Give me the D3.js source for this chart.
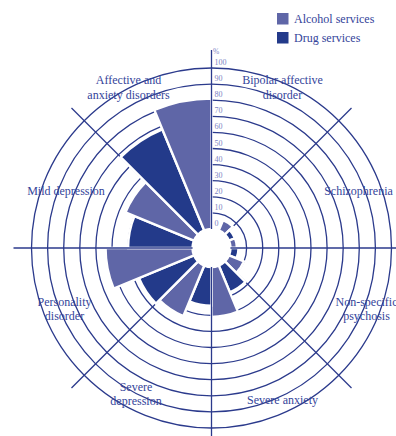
<!DOCTYPE html>
<html><head><meta charset="utf-8">
<script src="https://cdn.jsdelivr.net/npm/d3@7/dist/d3.min.js"></script>
<style>html,body{margin:0;padding:0;background:#fff;}svg{display:block;}</style>
</head><body>
<svg id="chart" width="396" height="436"></svg>
<script>
// ---- data ----
const categories = ["Bipolar affective disorder","Schizophrenia","Non-specific psychosis","Severe anxiety","Severe depression","Personality disorder","Mild depression","Affective and anxiety disorders"];
const categoryLines = [["Bipolar affective","disorder"],["Schizophrenia"],["Non-specific","psychosis"],["Severe anxiety"],["Severe","depression"],["Personality","disorder"],["Mild depression"],["Affective and","anxiety disorders"]];
const alcoholValues = [7, 4, 10, 31, 34, 54, 46, 81];
const drugValues    = [0, 4, 5, 18, 24, 37, 40, 68];
const seriesNames = ["Alcohol services","Drug services"];
const radialTicks = [0,10,20,30,40,50,60,70,80,90,100];

// ---- layout / style ----
const cx = 211.5, cy = 248;
const r0 = 19, r100 = 180, lineR = 198;
// label anchor (centre of first text line), relative to chart centre
const labelAnchors = [[71,-168],[147,-57],[155,54],[71,152],[-75.5,139],[-147,54],[-145.5,-57],[-83,-168]];
const labelLineGap = [15,0,13.5,0,13.5,13.5,0,15];
const colAlcohol = "#5f66a7", colDrug = "#233a8a", gridCol = "#2b3a8c", textCol = "#34449a";
const font = "'Liberation Serif', serif";

const svg = d3.select("#chart");
const g = svg.append("g").attr("transform", `translate(${cx},${cy})`);
const r = d3.scaleLinear().domain([0,100]).range([r0, r100]);
const n = categories.length;
const ang = d3.scaleLinear().domain([0, n]).range([0, 2*Math.PI]);

// rings
g.selectAll("circle.ring").data(radialTicks.slice(1)).join("circle")
  .attr("r", d => r(d)).attr("fill","none").attr("stroke",gridCol).attr("stroke-width",1.3);

// diagonal lines (below bars)
const diag = [1,3,5,7].map(k => k*Math.PI/4);
g.selectAll("line.diag").data(diag).join("line")
  .attr("x1",0).attr("y1",0)
  .attr("x2", a => lineR*Math.sin(a)).attr("y2", a => -lineR*Math.cos(a))
  .attr("stroke",gridCol).attr("stroke-width",1.3);

// bars
const arc = d3.arc();
const bars = [];
categories.forEach((c,i) => {
  const a0 = ang(i), a1 = ang(i+0.5), a2 = ang(i+1);
  bars.push({v: drugValues[i], a0: a0, a1: a1, col: colDrug});
  bars.push({v: alcoholValues[i], a0: a1, a1: a2, col: colAlcohol});
});
g.selectAll("path.bar").data(bars.filter(b => b.v > 0)).join("path")
  .attr("d", b => arc({innerRadius: r0, outerRadius: r(b.v), startAngle: b.a0, endAngle: b.a1}))
  .attr("fill", b => b.col).attr("stroke","#fff").attr("stroke-width",2.4).attr("stroke-linejoin","miter");

// vertical & horizontal lines on top
const straight = [0,1,2,3].map(k => k*Math.PI/2);
g.selectAll("line.axis").data(straight).join("line")
  .attr("x1",0).attr("y1",0)
  .attr("x2", a => lineR*Math.sin(a)).attr("y2", a => -lineR*Math.cos(a))
  .attr("stroke",gridCol).attr("stroke-width",1.3);

// hole
g.append("circle").attr("r", r0).attr("fill","#fff");

// radial tick labels
g.selectAll("text.tick").data(radialTicks).join("text")
  .attr("x", 3).attr("y", d => -r(d) - 3)
  .attr("font-family", font).attr("font-size", 8).attr("fill","#7c82c4")
  .text(d => d);
g.append("text").attr("x",1.5).attr("y", -r(100) - 14)
  .attr("font-family", font).attr("font-size", 7.5).attr("fill","#7c82c4").text("%");

// category labels
categories.forEach((c,i) => {
  const [x, y] = labelAnchors[i];
  const lines = categoryLines[i];
  const t = g.append("text").attr("text-anchor","middle")
    .attr("font-family", font).attr("font-size", 12).attr("fill", textCol);
  lines.forEach((l,j) => {
    t.append("tspan").attr("x", x).attr("y", y + j*labelLineGap[i] + 4).text(l);
  });
});

// legend
const leg = svg.append("g").attr("transform","translate(277,13)");
[colAlcohol, colDrug].forEach((col,i) => {
  leg.append("rect").attr("x",0).attr("y", i*19).attr("width",11.5).attr("height",11.5).attr("fill",col);
  leg.append("text").attr("x",17).attr("y", i*19 + 9.5)
    .attr("font-family", font).attr("font-size", 12).attr("fill", textCol).text(seriesNames[i]);
});
</script>
</body></html>
